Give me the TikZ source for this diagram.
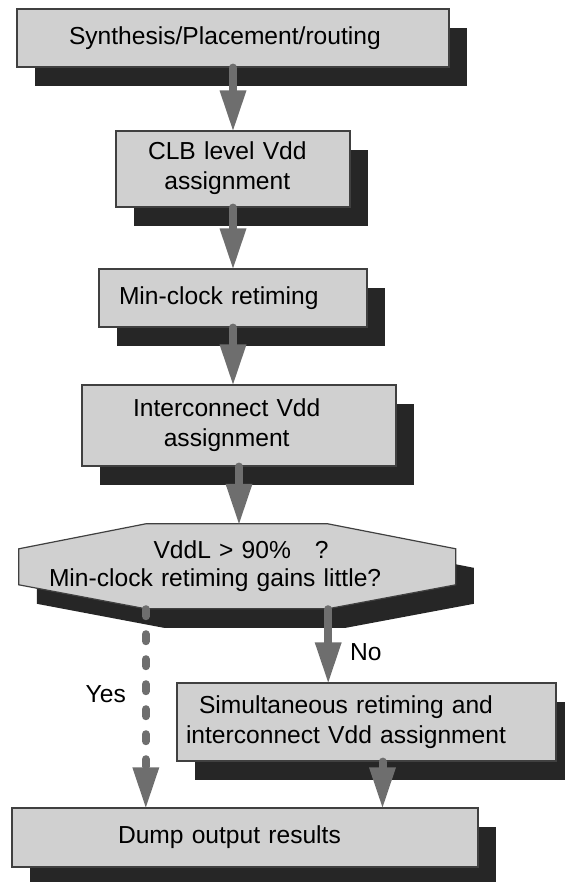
\documentclass[tikz,border=0pt]{standalone}
\usepackage{fontspec}
\setmainfont{Liberation Sans}
\usetikzlibrary{arrows.meta,shadows,backgrounds}
\definecolor{boxfill}{HTML}{D0D0D0}
\definecolor{boxline}{HTML}{404040}
\definecolor{shadowc}{HTML}{262626}
\definecolor{flowc}{HTML}{6E6E6E}
\newcommand{\lines}[1]{\begin{tabular}{@{}c@{}}#1\end{tabular}}

\begin{document}
\begin{tikzpicture}[x=1pt,y=-1pt,
  font=\fontsize{24.6}{30}\selectfont,
  box/.style={draw=boxline, fill=boxfill, line width=1.2pt, inner ysep=0pt, align=left,
    drop shadow={shadow xshift=18pt, shadow yshift=-19pt, fill=shadowc, opacity=1}},
  flow/.style={draw=flowc, line width=8pt, line cap=round,
    -{Triangle[length=40pt, width=27pt, line width=0pt]}},
  flowdash/.style={flow, dash pattern=on 7pt off 18pt},
  lbl/.style={inner sep=0pt}]
  \useasboundingbox (0,0) rectangle (564,882);

  % steps
  \node[box, minimum width=432pt, minimum height=58pt, inner xsep=52pt, text width=328pt] (synth) at (233,38)
    {Synthesis/Placement/routing};
  \node[box, minimum width=234pt, minimum height=76pt, inner xsep=32pt, text width=170pt] (clb) at (233,169)
    {\lines{CLB level Vdd\\assignment}};
  \node[box, minimum width=268pt, minimum height=58pt, inner xsep=20pt, text width=228pt] (minclk) at (233,298)
    {Min-clock retiming};
  \node[box, minimum width=314pt, minimum height=81pt, inner xsep=51pt, text width=212pt] (inter) at (239,425.5)
    {\lines{Interconnect Vdd\\assignment}};
  \node[lbl, minimum width=437pt, minimum height=85pt, inner xsep=30pt, text width=377pt, align=left] (check) at (237.5,566.5)
    {\lines{\hspace*{52pt}VddL > 90\%\hspace{24pt}?\\[-2pt]Min-clock retiming gains little?}};
  \node[box, minimum width=379pt, minimum height=78pt, inner xsep=9pt, text width=361pt] (simul) at (366.5,722)
    {\lines{Simultaneous retiming and\\interconnect Vdd assignment}};
  \node[box, minimum width=466pt, minimum height=59pt, inner xsep=106pt, text width=254pt] (dump) at (245,837.5)
    {Dump output results};

  % decision octagon
  \begin{scope}[on background layer]
    \fill[shadowc] ([shift={(18,19)}]check.north west) ++(127,0) -- ++(182,0) -- ++(128,25)
      -- ++(0,36) -- ++(-128,24) -- ++(-182,0) -- ++(-127,-24) -- ++(0,-36) -- cycle;
    \filldraw[draw=boxline, fill=boxfill, line width=1.2pt] (check.north west) ++(127,0) -- ++(182,0) -- ++(128,25)
      -- ++(0,36) -- ++(-128,24) -- ++(-182,0) -- ++(-127,-24) -- ++(0,-36) -- cycle;
  \end{scope}

  \coordinate (yesout) at ([xshift=127pt]check.south west);
  \coordinate (noout) at ([xshift=-128pt]check.south east);
  \coordinate (simout) at ([xshift=16pt]simul.south);

  % arrows
  \draw[flow] (synth) -- (clb);
  \draw[flow] (clb) -- (minclk);
  \draw[flow] (minclk.south) -- (minclk.south |- inter.north);
  \draw[flow] (inter.south) -- (inter.south |- check.north);
  \draw[flowdash] (yesout) -- node[lbl, pos=0.43, left=16pt] {Yes} (yesout |- dump.north);
  \draw[flow] (noout) -- node[lbl, pos=0.59, right=18pt] {No} (noout |- simul.north);
  \draw[flow] (simout) -- (simout |- dump.north);
\end{tikzpicture}
\end{document}
